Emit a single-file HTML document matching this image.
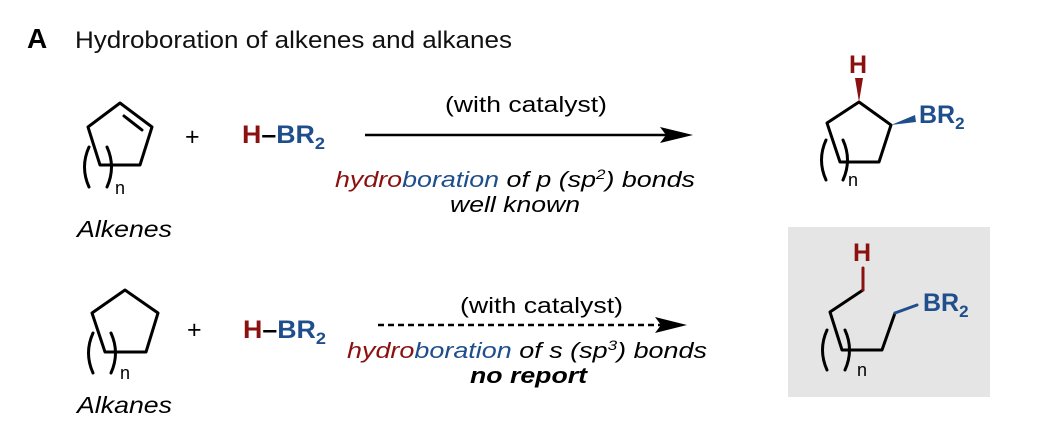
<!DOCTYPE html>
<html><head><meta charset="utf-8"><style>
html,body{margin:0;padding:0;background:#fff;}
svg{display:block;}
text{font-family:"Liberation Sans",Arial,sans-serif;}
</style></head><body>
<svg width="1048" height="426" viewBox="0 0 1048 426" xmlns="http://www.w3.org/2000/svg">
<text x="27" y="48" font-size="28" font-weight="bold" fill="#000">A</text>
<text x="75" y="48" font-size="24" fill="#111" textLength="437" lengthAdjust="spacingAndGlyphs">Hydroboration of alkenes and alkanes</text>

<g stroke="#000" stroke-width="3" fill="none" stroke-linejoin="round" stroke-linecap="round">
<polygon points="120,103 152,127 140,165 100,165 88,127"/>
<line x1="124" y1="116" x2="142" y2="130"/>
<path d="M89,147 Q80,167 89,187"/>
<path d="M107,147 Q116,167 107,187"/>
<polygon points="125,290 158,313 146,352 105,352 92,313"/>
<path d="M93,333 Q84,353 93,373"/>
<path d="M111,333 Q120,353 111,373"/>
<polygon points="859,102 891,125 879,162 840,162 827,123"/>
<path d="M826,140 Q817,160 826,180"/>
<path d="M843,140 Q852,160 843,180"/>
</g>
<polygon points="859,102 855,78 863,78" fill="#8b1010"/>
<polygon points="891,125 915,115 916,122" fill="#1f4e8c"/>

<rect x="788" y="227" width="202" height="170" fill="#e5e5e5"/>
<g stroke-width="3" fill="none" stroke-linejoin="round" stroke-linecap="round">
<polyline points="863,290 830,312 842,350 882,350 895,313" stroke="#000"/>
<path d="M827,330 Q818,350 827,370" stroke="#000"/>
<path d="M845,330 Q854,350 845,370" stroke="#000"/>
<line x1="863" y1="268" x2="863" y2="290" stroke="#8b1010"/>
<line x1="895" y1="313" x2="917" y2="305" stroke="#1f4e8c"/>
</g>

<g font-size="18" fill="#000">
<text x="115" y="194">n</text>
<text x="120" y="379">n</text>
<text x="848" y="186">n</text>
<text x="857" y="376">n</text>
</g>

<text x="77" y="237" font-size="23" font-style="italic" fill="#000" textLength="95" lengthAdjust="spacingAndGlyphs">Alkenes</text>
<text x="77" y="413" font-size="23" font-style="italic" fill="#000" textLength="95" lengthAdjust="spacingAndGlyphs">Alkanes</text>
<text x="185" y="145" font-size="25" fill="#000">+</text>
<text x="187" y="338" font-size="25" fill="#000">+</text>

<text x="242" y="143" font-size="25" font-weight="bold" textLength="83" lengthAdjust="spacingAndGlyphs"><tspan fill="#8b1010">H</tspan><tspan fill="#000">–</tspan><tspan fill="#1f4e8c">BR</tspan><tspan fill="#1f4e8c" font-size="17" dy="6">2</tspan></text>
<text x="243" y="338" font-size="25" font-weight="bold" textLength="83" lengthAdjust="spacingAndGlyphs"><tspan fill="#8b1010">H</tspan><tspan fill="#000">–</tspan><tspan fill="#1f4e8c">BR</tspan><tspan fill="#1f4e8c" font-size="17" dy="6">2</tspan></text>

<text x="849" y="73" font-size="25" font-weight="bold" fill="#8b1010">H</text>
<text x="919" y="123" font-size="25" font-weight="bold" fill="#1f4e8c">BR<tspan font-size="17" dy="6">2</tspan></text>
<text x="853" y="261" font-size="25" font-weight="bold" fill="#8b1010">H</text>
<text x="923" y="311" font-size="25" font-weight="bold" fill="#1f4e8c">BR<tspan font-size="17" dy="6">2</tspan></text>

<text x="445" y="112" font-size="22" fill="#000" textLength="162" lengthAdjust="spacingAndGlyphs">(with catalyst)</text>
<line x1="365" y1="135" x2="670" y2="135" stroke="#000" stroke-width="2.5"/>
<path d="M693,135 L660,127 L666,135 L660,143 Z" fill="#000"/>
<text x="335" y="187" font-size="22" font-style="italic" textLength="360" lengthAdjust="spacingAndGlyphs"><tspan fill="#8b1010">hydro</tspan><tspan fill="#1f4e8c">boration</tspan><tspan fill="#000"> of p (sp</tspan><tspan fill="#000" font-size="14" dy="-8">2</tspan><tspan fill="#000" dy="8">) bonds</tspan></text>
<text x="450" y="212" font-size="22" font-style="italic" fill="#000" textLength="130" lengthAdjust="spacingAndGlyphs">well known</text>

<text x="460" y="313" font-size="22" fill="#000" textLength="163" lengthAdjust="spacingAndGlyphs">(with catalyst)</text>
<line x1="378" y1="325" x2="665" y2="325" stroke="#000" stroke-width="2.5" stroke-dasharray="6,4"/>
<path d="M687,325 L655,317 L661,325 L655,333 Z" fill="#000"/>
<text x="347" y="358" font-size="22" font-style="italic" textLength="360" lengthAdjust="spacingAndGlyphs"><tspan fill="#8b1010">hydro</tspan><tspan fill="#1f4e8c">boration</tspan><tspan fill="#000"> of s (sp</tspan><tspan fill="#000" font-size="14" dy="-8">3</tspan><tspan fill="#000" dy="8">) bonds</tspan></text>
<text x="470" y="383" font-size="22" font-style="italic" font-weight="bold" fill="#000" textLength="117" lengthAdjust="spacingAndGlyphs">no report</text>
</svg>
</body></html>
